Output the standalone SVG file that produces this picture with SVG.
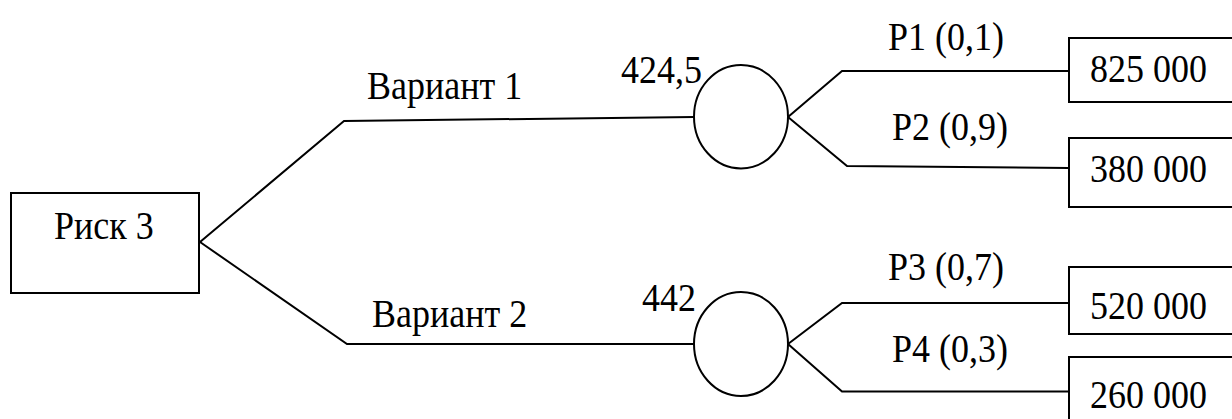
<svg xmlns="http://www.w3.org/2000/svg" width="1232" height="419" viewBox="0 0 1232 419">
<style>
.s{fill:none;stroke:#000;stroke-width:2}
.n{fill:#fff;stroke:#000;stroke-width:2}
.t{font-family:"Liberation Serif","Times New Roman",serif;font-size:36px;fill:#000}
</style>
<rect width="1232" height="419" fill="#fff"/>
<g id="connectors">
<polyline class="s" points="200,242 344,121 694,117"/>
<polyline class="s" points="200,242 347,344 694,344"/>
<polyline class="s" points="788,117 842,71 1069,71"/>
<polyline class="s" points="788,117 847,166 1069,168"/>
<polyline class="s" points="788,344 842,303 1069,303"/>
<polyline class="s" points="788,344 842,391.5 1069,391.5"/>
</g>
<g id="risk3">
<rect class="n" x="11" y="193" width="188" height="100"/>
<text class="t" font-family="Liberation Serif" transform="translate(54,239) scale(1,1.12)">Риск 3</text>
</g>
<g id="variant1-label"><text class="t" font-family="Liberation Serif" transform="translate(367,99) scale(1,1.12)">Вариант 1</text></g>
<g id="variant2-label"><text class="t" font-family="Liberation Serif" transform="translate(372,327) scale(1,1.12)">Вариант 2</text></g>
<g id="chance1">
<ellipse class="n" cx="741" cy="116.7" rx="47" ry="51.7"/>
<text class="t" font-family="Liberation Serif" transform="translate(621,83) scale(1,1.12)">424,5</text>
</g>
<g id="chance2">
<ellipse class="n" cx="741" cy="344" rx="47" ry="52"/>
<text class="t" font-family="Liberation Serif" transform="translate(642,311) scale(1,1.12)">442</text>
</g>
<g id="p1-label"><text class="t" font-family="Liberation Serif" transform="translate(888,50) scale(1,1.12)">P1 (0,1)</text></g>
<g id="p2-label"><text class="t" font-family="Liberation Serif" transform="translate(892,140) scale(1,1.12)">P2 (0,9)</text></g>
<g id="p3-label"><text class="t" font-family="Liberation Serif" transform="translate(888,280) scale(1,1.12)">P3 (0,7)</text></g>
<g id="p4-label"><text class="t" font-family="Liberation Serif" transform="translate(892,362) scale(1,1.12)">P4 (0,3)</text></g>
<g id="out1">
<rect class="n" x="1069" y="38" width="200" height="64"/>
<text class="t" font-family="Liberation Serif" transform="translate(1090,82) scale(1,1.12)">825 000</text>
</g>
<g id="out2">
<rect class="n" x="1069" y="138" width="200" height="69"/>
<text class="t" font-family="Liberation Serif" transform="translate(1090,182) scale(1,1.12)">380 000</text>
</g>
<g id="out3">
<rect class="n" x="1069" y="267" width="200" height="67"/>
<text class="t" font-family="Liberation Serif" transform="translate(1090,319) scale(1,1.12)">520 000</text>
</g>
<g id="out4">
<rect class="n" x="1069" y="357" width="200" height="80"/>
<text class="t" font-family="Liberation Serif" transform="translate(1090,408) scale(1,1.12)">260 000</text>
</g>
</svg>
